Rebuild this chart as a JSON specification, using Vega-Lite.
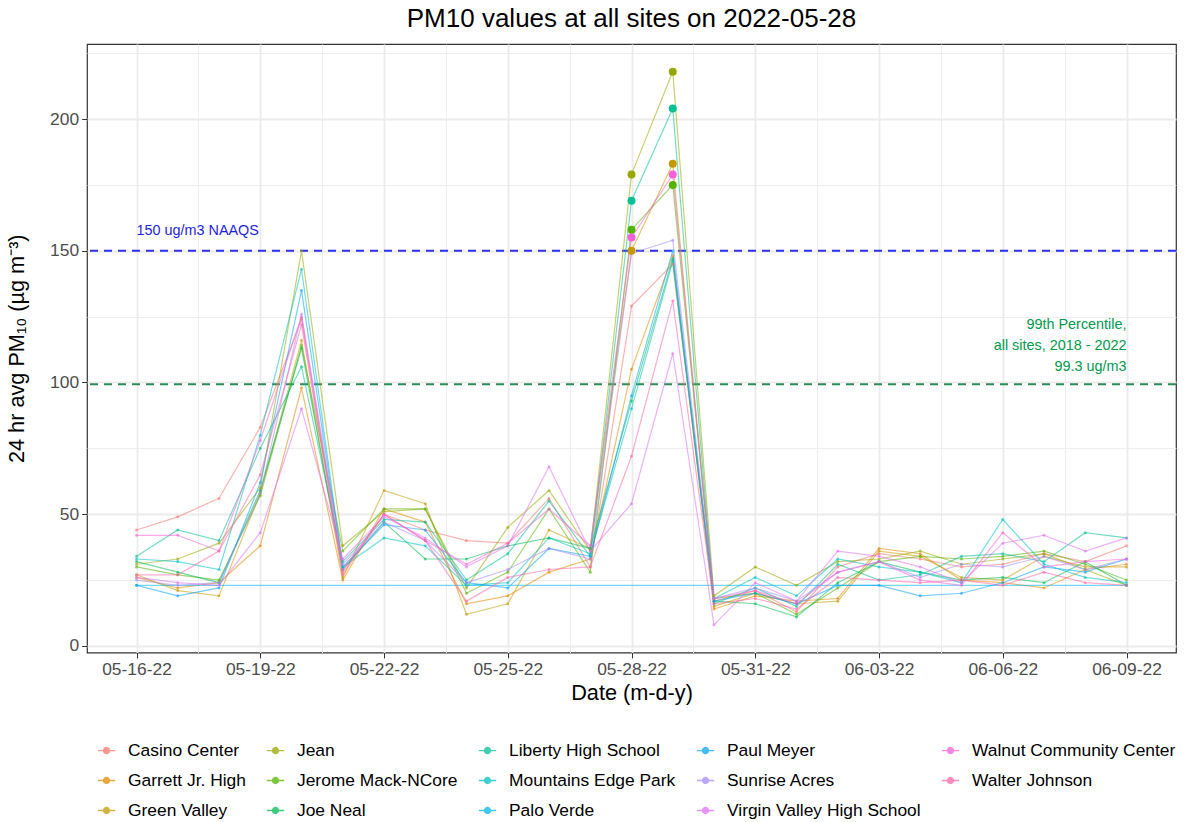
{
  "$schema": "https://vega.github.io/schema/vega-lite/v6.json",
  "width": 1089,
  "height": 608.5,
  "autosize": {"type": "none"},
  "padding": {"left": 87, "top": 44, "right": 9, "bottom": 169.5},
  "title": {"text": "PM10 values at all sites on 2022-05-28", "fontSize": 26, "font": "Liberation Sans", "fontWeight": "normal", "color": "black", "anchor": "middle", "offset": 12},
  "config": {
    "font": "Liberation Sans",
    "view": {"stroke": "#333333", "strokeWidth": 1.2},
    "axis": {"labelFontSize": 17.4, "labelColor": "#4D4D4D", "titleFontSize": 21.7, "titleFontWeight": "normal", "titleColor": "black", "tickColor": "#333333", "domain": false, "gridColor": "#EBEBEB", "labelPadding": 3}
  },
  "datasets": {
    "pm": [
      {"site":"Casino Center","date":"2022/05/16","pm10":44},{"site":"Casino Center","date":"2022/05/17","pm10":49},{"site":"Casino Center","date":"2022/05/18","pm10":56},{"site":"Casino Center","date":"2022/05/19","pm10":83},{"site":"Casino Center","date":"2022/05/20","pm10":124},{"site":"Casino Center","date":"2022/05/21","pm10":28},{"site":"Casino Center","date":"2022/05/22","pm10":50},{"site":"Casino Center","date":"2022/05/23","pm10":44},{"site":"Casino Center","date":"2022/05/24","pm10":40},{"site":"Casino Center","date":"2022/05/25","pm10":39},{"site":"Casino Center","date":"2022/05/26","pm10":56},{"site":"Casino Center","date":"2022/05/27","pm10":30},{"site":"Casino Center","date":"2022/05/28","pm10":129},{"site":"Casino Center","date":"2022/05/29","pm10":145},{"site":"Casino Center","date":"2022/05/30","pm10":17},{"site":"Casino Center","date":"2022/05/31","pm10":21},{"site":"Casino Center","date":"2022/06/01","pm10":13},{"site":"Casino Center","date":"2022/06/02","pm10":30},{"site":"Casino Center","date":"2022/06/03","pm10":35},{"site":"Casino Center","date":"2022/06/04","pm10":33},{"site":"Casino Center","date":"2022/06/05","pm10":30},{"site":"Casino Center","date":"2022/06/06","pm10":31},{"site":"Casino Center","date":"2022/06/07","pm10":35},{"site":"Casino Center","date":"2022/06/08","pm10":32},{"site":"Casino Center","date":"2022/06/09","pm10":38},
      {"site":"Garrett Jr. High","date":"2022/05/16","pm10":26},{"site":"Garrett Jr. High","date":"2022/05/17","pm10":22},{"site":"Garrett Jr. High","date":"2022/05/18","pm10":24},{"site":"Garrett Jr. High","date":"2022/05/19","pm10":38},{"site":"Garrett Jr. High","date":"2022/05/20","pm10":98},{"site":"Garrett Jr. High","date":"2022/05/21","pm10":25},{"site":"Garrett Jr. High","date":"2022/05/22","pm10":52},{"site":"Garrett Jr. High","date":"2022/05/23","pm10":47},{"site":"Garrett Jr. High","date":"2022/05/24","pm10":16},{"site":"Garrett Jr. High","date":"2022/05/25","pm10":19},{"site":"Garrett Jr. High","date":"2022/05/26","pm10":28},{"site":"Garrett Jr. High","date":"2022/05/27","pm10":33},{"site":"Garrett Jr. High","date":"2022/05/28","pm10":105},{"site":"Garrett Jr. High","date":"2022/05/29","pm10":148},{"site":"Garrett Jr. High","date":"2022/05/30","pm10":14},{"site":"Garrett Jr. High","date":"2022/05/31","pm10":19},{"site":"Garrett Jr. High","date":"2022/06/01","pm10":17},{"site":"Garrett Jr. High","date":"2022/06/02","pm10":18},{"site":"Garrett Jr. High","date":"2022/06/03","pm10":37},{"site":"Garrett Jr. High","date":"2022/06/04","pm10":35},{"site":"Garrett Jr. High","date":"2022/06/05","pm10":25},{"site":"Garrett Jr. High","date":"2022/06/06","pm10":24},{"site":"Garrett Jr. High","date":"2022/06/07","pm10":22},{"site":"Garrett Jr. High","date":"2022/06/08","pm10":29},{"site":"Garrett Jr. High","date":"2022/06/09","pm10":31},
      {"site":"Green Valley","date":"2022/05/16","pm10":27},{"site":"Green Valley","date":"2022/05/17","pm10":21},{"site":"Green Valley","date":"2022/05/18","pm10":19},{"site":"Green Valley","date":"2022/05/19","pm10":58},{"site":"Green Valley","date":"2022/05/20","pm10":116},{"site":"Green Valley","date":"2022/05/21","pm10":26},{"site":"Green Valley","date":"2022/05/22","pm10":59},{"site":"Green Valley","date":"2022/05/23","pm10":54},{"site":"Green Valley","date":"2022/05/24","pm10":12},{"site":"Green Valley","date":"2022/05/25","pm10":16},{"site":"Green Valley","date":"2022/05/26","pm10":44},{"site":"Green Valley","date":"2022/05/27","pm10":37},{"site":"Green Valley","date":"2022/05/28","pm10":150,"exceed":true},{"site":"Green Valley","date":"2022/05/29","pm10":183,"exceed":true},{"site":"Green Valley","date":"2022/05/30","pm10":15},{"site":"Green Valley","date":"2022/05/31","pm10":20},{"site":"Green Valley","date":"2022/06/01","pm10":16},{"site":"Green Valley","date":"2022/06/02","pm10":17},{"site":"Green Valley","date":"2022/06/03","pm10":36},{"site":"Green Valley","date":"2022/06/04","pm10":34},{"site":"Green Valley","date":"2022/06/05","pm10":26},{"site":"Green Valley","date":"2022/06/06","pm10":25},{"site":"Green Valley","date":"2022/06/07","pm10":34},{"site":"Green Valley","date":"2022/06/08","pm10":30},{"site":"Green Valley","date":"2022/06/09","pm10":30},
      {"site":"Jean","date":"2022/05/16","pm10":31},{"site":"Jean","date":"2022/05/17","pm10":33},{"site":"Jean","date":"2022/05/18","pm10":39},{"site":"Jean","date":"2022/05/19","pm10":60},{"site":"Jean","date":"2022/05/20","pm10":150},{"site":"Jean","date":"2022/05/21","pm10":38},{"site":"Jean","date":"2022/05/22","pm10":51},{"site":"Jean","date":"2022/05/23","pm10":52},{"site":"Jean","date":"2022/05/24","pm10":22},{"site":"Jean","date":"2022/05/25","pm10":45},{"site":"Jean","date":"2022/05/26","pm10":59},{"site":"Jean","date":"2022/05/27","pm10":36},{"site":"Jean","date":"2022/05/28","pm10":179,"exceed":true},{"site":"Jean","date":"2022/05/29","pm10":218,"exceed":true},{"site":"Jean","date":"2022/05/30","pm10":19},{"site":"Jean","date":"2022/05/31","pm10":30},{"site":"Jean","date":"2022/06/01","pm10":23},{"site":"Jean","date":"2022/06/02","pm10":32},{"site":"Jean","date":"2022/06/03","pm10":33},{"site":"Jean","date":"2022/06/04","pm10":36},{"site":"Jean","date":"2022/06/05","pm10":31},{"site":"Jean","date":"2022/06/06","pm10":33},{"site":"Jean","date":"2022/06/07","pm10":35},{"site":"Jean","date":"2022/06/08","pm10":29},{"site":"Jean","date":"2022/06/09","pm10":23},
      {"site":"Jerome Mack-NCore","date":"2022/05/16","pm10":30},{"site":"Jerome Mack-NCore","date":"2022/05/17","pm10":27},{"site":"Jerome Mack-NCore","date":"2022/05/18","pm10":25},{"site":"Jerome Mack-NCore","date":"2022/05/19","pm10":57},{"site":"Jerome Mack-NCore","date":"2022/05/20","pm10":114},{"site":"Jerome Mack-NCore","date":"2022/05/21","pm10":36},{"site":"Jerome Mack-NCore","date":"2022/05/22","pm10":52},{"site":"Jerome Mack-NCore","date":"2022/05/23","pm10":52},{"site":"Jerome Mack-NCore","date":"2022/05/24","pm10":20},{"site":"Jerome Mack-NCore","date":"2022/05/25","pm10":28},{"site":"Jerome Mack-NCore","date":"2022/05/26","pm10":52},{"site":"Jerome Mack-NCore","date":"2022/05/27","pm10":28},{"site":"Jerome Mack-NCore","date":"2022/05/28","pm10":158,"exceed":true},{"site":"Jerome Mack-NCore","date":"2022/05/29","pm10":175,"exceed":true},{"site":"Jerome Mack-NCore","date":"2022/05/30","pm10":18},{"site":"Jerome Mack-NCore","date":"2022/05/31","pm10":20},{"site":"Jerome Mack-NCore","date":"2022/06/01","pm10":12},{"site":"Jerome Mack-NCore","date":"2022/06/02","pm10":22},{"site":"Jerome Mack-NCore","date":"2022/06/03","pm10":32},{"site":"Jerome Mack-NCore","date":"2022/06/04","pm10":34},{"site":"Jerome Mack-NCore","date":"2022/06/05","pm10":33},{"site":"Jerome Mack-NCore","date":"2022/06/06","pm10":34},{"site":"Jerome Mack-NCore","date":"2022/06/07","pm10":36},{"site":"Jerome Mack-NCore","date":"2022/06/08","pm10":31},{"site":"Jerome Mack-NCore","date":"2022/06/09","pm10":25},
      {"site":"Joe Neal","date":"2022/05/16","pm10":32},{"site":"Joe Neal","date":"2022/05/17","pm10":28},{"site":"Joe Neal","date":"2022/05/18","pm10":24},{"site":"Joe Neal","date":"2022/05/19","pm10":59},{"site":"Joe Neal","date":"2022/05/20","pm10":113},{"site":"Joe Neal","date":"2022/05/21","pm10":29},{"site":"Joe Neal","date":"2022/05/22","pm10":47},{"site":"Joe Neal","date":"2022/05/23","pm10":33},{"site":"Joe Neal","date":"2022/05/24","pm10":33},{"site":"Joe Neal","date":"2022/05/25","pm10":38},{"site":"Joe Neal","date":"2022/05/26","pm10":41},{"site":"Joe Neal","date":"2022/05/27","pm10":37},{"site":"Joe Neal","date":"2022/05/28","pm10":93},{"site":"Joe Neal","date":"2022/05/29","pm10":147},{"site":"Joe Neal","date":"2022/05/30","pm10":17},{"site":"Joe Neal","date":"2022/05/31","pm10":16},{"site":"Joe Neal","date":"2022/06/01","pm10":11},{"site":"Joe Neal","date":"2022/06/02","pm10":24},{"site":"Joe Neal","date":"2022/06/03","pm10":32},{"site":"Joe Neal","date":"2022/06/04","pm10":28},{"site":"Joe Neal","date":"2022/06/05","pm10":25},{"site":"Joe Neal","date":"2022/06/06","pm10":26},{"site":"Joe Neal","date":"2022/06/07","pm10":24},{"site":"Joe Neal","date":"2022/06/08","pm10":32},{"site":"Joe Neal","date":"2022/06/09","pm10":23},
      {"site":"Liberty High School","date":"2022/05/16","pm10":34},{"site":"Liberty High School","date":"2022/05/17","pm10":44},{"site":"Liberty High School","date":"2022/05/18","pm10":40},{"site":"Liberty High School","date":"2022/05/19","pm10":75},{"site":"Liberty High School","date":"2022/05/20","pm10":106},{"site":"Liberty High School","date":"2022/05/21","pm10":32},{"site":"Liberty High School","date":"2022/05/22","pm10":48},{"site":"Liberty High School","date":"2022/05/23","pm10":47},{"site":"Liberty High School","date":"2022/05/24","pm10":25},{"site":"Liberty High School","date":"2022/05/25","pm10":35},{"site":"Liberty High School","date":"2022/05/26","pm10":55},{"site":"Liberty High School","date":"2022/05/27","pm10":34},{"site":"Liberty High School","date":"2022/05/28","pm10":169,"exceed":true},{"site":"Liberty High School","date":"2022/05/29","pm10":204,"exceed":true},{"site":"Liberty High School","date":"2022/05/30","pm10":16},{"site":"Liberty High School","date":"2022/05/31","pm10":22},{"site":"Liberty High School","date":"2022/06/01","pm10":15},{"site":"Liberty High School","date":"2022/06/02","pm10":31},{"site":"Liberty High School","date":"2022/06/03","pm10":25},{"site":"Liberty High School","date":"2022/06/04","pm10":27},{"site":"Liberty High School","date":"2022/06/05","pm10":34},{"site":"Liberty High School","date":"2022/06/06","pm10":35},{"site":"Liberty High School","date":"2022/06/07","pm10":32},{"site":"Liberty High School","date":"2022/06/08","pm10":43},{"site":"Liberty High School","date":"2022/06/09","pm10":41},
      {"site":"Mountains Edge Park","date":"2022/05/16","pm10":33},{"site":"Mountains Edge Park","date":"2022/05/17","pm10":32},{"site":"Mountains Edge Park","date":"2022/05/18","pm10":29},{"site":"Mountains Edge Park","date":"2022/05/19","pm10":80},{"site":"Mountains Edge Park","date":"2022/05/20","pm10":143},{"site":"Mountains Edge Park","date":"2022/05/21","pm10":30},{"site":"Mountains Edge Park","date":"2022/05/22","pm10":41},{"site":"Mountains Edge Park","date":"2022/05/23","pm10":38},{"site":"Mountains Edge Park","date":"2022/05/24","pm10":23},{"site":"Mountains Edge Park","date":"2022/05/25","pm10":24},{"site":"Mountains Edge Park","date":"2022/05/26","pm10":41},{"site":"Mountains Edge Park","date":"2022/05/27","pm10":35},{"site":"Mountains Edge Park","date":"2022/05/28","pm10":90},{"site":"Mountains Edge Park","date":"2022/05/29","pm10":146},{"site":"Mountains Edge Park","date":"2022/05/30","pm10":18},{"site":"Mountains Edge Park","date":"2022/05/31","pm10":26},{"site":"Mountains Edge Park","date":"2022/06/01","pm10":19},{"site":"Mountains Edge Park","date":"2022/06/02","pm10":33},{"site":"Mountains Edge Park","date":"2022/06/03","pm10":30},{"site":"Mountains Edge Park","date":"2022/06/04","pm10":28},{"site":"Mountains Edge Park","date":"2022/06/05","pm10":24},{"site":"Mountains Edge Park","date":"2022/06/06","pm10":48},{"site":"Mountains Edge Park","date":"2022/06/07","pm10":31},{"site":"Mountains Edge Park","date":"2022/06/08","pm10":26},{"site":"Mountains Edge Park","date":"2022/06/09","pm10":24},
      {"site":"Palo Verde","date":"2022/05/16","pm10":23},{"site":"Palo Verde","date":"2022/06/09","pm10":23},
      {"site":"Paul Meyer","date":"2022/05/16","pm10":23},{"site":"Paul Meyer","date":"2022/05/17","pm10":19},{"site":"Paul Meyer","date":"2022/05/18","pm10":22},{"site":"Paul Meyer","date":"2022/05/19","pm10":62},{"site":"Paul Meyer","date":"2022/05/20","pm10":135},{"site":"Paul Meyer","date":"2022/05/21","pm10":30},{"site":"Paul Meyer","date":"2022/05/22","pm10":46},{"site":"Paul Meyer","date":"2022/05/23","pm10":44},{"site":"Paul Meyer","date":"2022/05/24","pm10":24},{"site":"Paul Meyer","date":"2022/05/25","pm10":22},{"site":"Paul Meyer","date":"2022/05/26","pm10":37},{"site":"Paul Meyer","date":"2022/05/27","pm10":34},{"site":"Paul Meyer","date":"2022/05/28","pm10":95},{"site":"Paul Meyer","date":"2022/05/29","pm10":150},{"site":"Paul Meyer","date":"2022/05/30","pm10":17},{"site":"Paul Meyer","date":"2022/05/31","pm10":20},{"site":"Paul Meyer","date":"2022/06/01","pm10":16},{"site":"Paul Meyer","date":"2022/06/02","pm10":23},{"site":"Paul Meyer","date":"2022/06/03","pm10":23},{"site":"Paul Meyer","date":"2022/06/04","pm10":19},{"site":"Paul Meyer","date":"2022/06/05","pm10":20},{"site":"Paul Meyer","date":"2022/06/06","pm10":24},{"site":"Paul Meyer","date":"2022/06/07","pm10":30},{"site":"Paul Meyer","date":"2022/06/08","pm10":28},{"site":"Paul Meyer","date":"2022/06/09","pm10":33},
      {"site":"Sunrise Acres","date":"2022/05/16","pm10":25},{"site":"Sunrise Acres","date":"2022/05/17","pm10":23},{"site":"Sunrise Acres","date":"2022/05/18","pm10":24},{"site":"Sunrise Acres","date":"2022/05/19","pm10":58},{"site":"Sunrise Acres","date":"2022/05/20","pm10":126},{"site":"Sunrise Acres","date":"2022/05/21","pm10":31},{"site":"Sunrise Acres","date":"2022/05/22","pm10":47},{"site":"Sunrise Acres","date":"2022/05/23","pm10":40},{"site":"Sunrise Acres","date":"2022/05/24","pm10":24},{"site":"Sunrise Acres","date":"2022/05/25","pm10":29},{"site":"Sunrise Acres","date":"2022/05/26","pm10":37},{"site":"Sunrise Acres","date":"2022/05/27","pm10":33},{"site":"Sunrise Acres","date":"2022/05/28","pm10":149},{"site":"Sunrise Acres","date":"2022/05/29","pm10":154},{"site":"Sunrise Acres","date":"2022/05/30","pm10":18},{"site":"Sunrise Acres","date":"2022/05/31","pm10":22},{"site":"Sunrise Acres","date":"2022/06/01","pm10":17},{"site":"Sunrise Acres","date":"2022/06/02","pm10":28},{"site":"Sunrise Acres","date":"2022/06/03","pm10":32},{"site":"Sunrise Acres","date":"2022/06/04","pm10":26},{"site":"Sunrise Acres","date":"2022/06/05","pm10":31},{"site":"Sunrise Acres","date":"2022/06/06","pm10":30},{"site":"Sunrise Acres","date":"2022/06/07","pm10":34},{"site":"Sunrise Acres","date":"2022/06/08","pm10":29},{"site":"Sunrise Acres","date":"2022/06/09","pm10":33},
      {"site":"Virgin Valley High School","date":"2022/05/16","pm10":26},{"site":"Virgin Valley High School","date":"2022/05/17","pm10":24},{"site":"Virgin Valley High School","date":"2022/05/18","pm10":23},{"site":"Virgin Valley High School","date":"2022/05/19","pm10":43},{"site":"Virgin Valley High School","date":"2022/05/20","pm10":90},{"site":"Virgin Valley High School","date":"2022/05/21","pm10":33},{"site":"Virgin Valley High School","date":"2022/05/22","pm10":49},{"site":"Virgin Valley High School","date":"2022/05/23","pm10":41},{"site":"Virgin Valley High School","date":"2022/05/24","pm10":30},{"site":"Virgin Valley High School","date":"2022/05/25","pm10":38},{"site":"Virgin Valley High School","date":"2022/05/26","pm10":68},{"site":"Virgin Valley High School","date":"2022/05/27","pm10":36},{"site":"Virgin Valley High School","date":"2022/05/28","pm10":54},{"site":"Virgin Valley High School","date":"2022/05/29","pm10":111},{"site":"Virgin Valley High School","date":"2022/05/30","pm10":8},{"site":"Virgin Valley High School","date":"2022/05/31","pm10":24},{"site":"Virgin Valley High School","date":"2022/06/01","pm10":17},{"site":"Virgin Valley High School","date":"2022/06/02","pm10":36},{"site":"Virgin Valley High School","date":"2022/06/03","pm10":34},{"site":"Virgin Valley High School","date":"2022/06/04","pm10":30},{"site":"Virgin Valley High School","date":"2022/06/05","pm10":24},{"site":"Virgin Valley High School","date":"2022/06/06","pm10":39},{"site":"Virgin Valley High School","date":"2022/06/07","pm10":42},{"site":"Virgin Valley High School","date":"2022/06/08","pm10":36},{"site":"Virgin Valley High School","date":"2022/06/09","pm10":41},
      {"site":"Walnut Community Center","date":"2022/05/16","pm10":42},{"site":"Walnut Community Center","date":"2022/05/17","pm10":42},{"site":"Walnut Community Center","date":"2022/05/18","pm10":36},{"site":"Walnut Community Center","date":"2022/05/19","pm10":78},{"site":"Walnut Community Center","date":"2022/05/20","pm10":125},{"site":"Walnut Community Center","date":"2022/05/21","pm10":29},{"site":"Walnut Community Center","date":"2022/05/22","pm10":50},{"site":"Walnut Community Center","date":"2022/05/23","pm10":40},{"site":"Walnut Community Center","date":"2022/05/24","pm10":31},{"site":"Walnut Community Center","date":"2022/05/25","pm10":39},{"site":"Walnut Community Center","date":"2022/05/26","pm10":52},{"site":"Walnut Community Center","date":"2022/05/27","pm10":38},{"site":"Walnut Community Center","date":"2022/05/28","pm10":155,"exceed":true},{"site":"Walnut Community Center","date":"2022/05/29","pm10":179,"exceed":true},{"site":"Walnut Community Center","date":"2022/05/30","pm10":18},{"site":"Walnut Community Center","date":"2022/05/31","pm10":21},{"site":"Walnut Community Center","date":"2022/06/01","pm10":16},{"site":"Walnut Community Center","date":"2022/06/02","pm10":28},{"site":"Walnut Community Center","date":"2022/06/03","pm10":32},{"site":"Walnut Community Center","date":"2022/06/04","pm10":25},{"site":"Walnut Community Center","date":"2022/06/05","pm10":23},{"site":"Walnut Community Center","date":"2022/06/06","pm10":43},{"site":"Walnut Community Center","date":"2022/06/07","pm10":30},{"site":"Walnut Community Center","date":"2022/06/08","pm10":32},{"site":"Walnut Community Center","date":"2022/06/09","pm10":33},
      {"site":"Walter Johnson","date":"2022/05/16","pm10":27},{"site":"Walter Johnson","date":"2022/05/17","pm10":27},{"site":"Walter Johnson","date":"2022/05/18","pm10":36},{"site":"Walter Johnson","date":"2022/05/19","pm10":65},{"site":"Walter Johnson","date":"2022/05/20","pm10":122},{"site":"Walter Johnson","date":"2022/05/21","pm10":27},{"site":"Walter Johnson","date":"2022/05/22","pm10":50},{"site":"Walter Johnson","date":"2022/05/23","pm10":40},{"site":"Walter Johnson","date":"2022/05/24","pm10":17},{"site":"Walter Johnson","date":"2022/05/25","pm10":26},{"site":"Walter Johnson","date":"2022/05/26","pm10":29},{"site":"Walter Johnson","date":"2022/05/27","pm10":30},{"site":"Walter Johnson","date":"2022/05/28","pm10":72},{"site":"Walter Johnson","date":"2022/05/29","pm10":131},{"site":"Walter Johnson","date":"2022/05/30","pm10":16},{"site":"Walter Johnson","date":"2022/05/31","pm10":18},{"site":"Walter Johnson","date":"2022/06/01","pm10":14},{"site":"Walter Johnson","date":"2022/06/02","pm10":26},{"site":"Walter Johnson","date":"2022/06/03","pm10":25},{"site":"Walter Johnson","date":"2022/06/04","pm10":24},{"site":"Walter Johnson","date":"2022/06/05","pm10":25},{"site":"Walter Johnson","date":"2022/06/06","pm10":23},{"site":"Walter Johnson","date":"2022/06/07","pm10":28},{"site":"Walter Johnson","date":"2022/06/08","pm10":24},{"site":"Walter Johnson","date":"2022/06/09","pm10":23}
    ]
  },
  "encoding": {
    "y": {
      "field": "pm10", "type": "quantitative",
      "scale": {"domain": [-2.5, 228.5], "nice": false, "zero": false},
      "axis": {
        "title": "24 hr avg PM₁₀ (µg m⁻³)",
        "values": [0, 25, 50, 75, 100, 125, 150, 175, 200, 225],
        "labelExpr": "datum.value % 50 === 0 ? datum.label : ''",
        "tickOpacity": {"condition": {"test": "datum.value % 50 === 0", "value": 1}, "value": 0},
        "gridWidth": {"condition": {"test": "datum.value % 50 === 0", "value": 1.8}, "value": 0.9},
        "tickSize": 5.4,
        "titlePadding": 21
      }
    }
  },
  "layer": [
    {
      "data": {"values": [{"pm10": 150}]},
      "mark": {"type": "rule", "color": "#2E2EF0", "strokeDash": [8, 6], "strokeWidth": 2},
      "encoding": {}
    },
    {
      "data": {"values": [{"pm10": 99.3}]},
      "mark": {"type": "rule", "color": "#2E8B57", "strokeDash": [8, 6], "strokeWidth": 2},
      "encoding": {}
    },
    {
      "data": {"name": "pm"},
      "mark": {"type": "line", "strokeWidth": 1.2, "opacity": 0.55},
      "encoding": {
        "x": {
          "field": "date", "type": "temporal",
          "scale": {"domain": [{"year": 2022, "month": 5, "date": 14, "hours": 19, "minutes": 12}, {"year": 2022, "month": 6, "date": 10, "hours": 4, "minutes": 48}]},
          "axis": {
            "title": "Date (m-d-y)",
            "format": "%m-%d-%y",
            "values": [
              {"year": 2022, "month": 5, "date": 16}, {"year": 2022, "month": 5, "date": 17, "hours": 12},
              {"year": 2022, "month": 5, "date": 19}, {"year": 2022, "month": 5, "date": 20, "hours": 12},
              {"year": 2022, "month": 5, "date": 22}, {"year": 2022, "month": 5, "date": 23, "hours": 12},
              {"year": 2022, "month": 5, "date": 25}, {"year": 2022, "month": 5, "date": 26, "hours": 12},
              {"year": 2022, "month": 5, "date": 28}, {"year": 2022, "month": 5, "date": 29, "hours": 12},
              {"year": 2022, "month": 5, "date": 31}, {"year": 2022, "month": 6, "date": 1, "hours": 12},
              {"year": 2022, "month": 6, "date": 3}, {"year": 2022, "month": 6, "date": 4, "hours": 12},
              {"year": 2022, "month": 6, "date": 6}, {"year": 2022, "month": 6, "date": 7, "hours": 12},
              {"year": 2022, "month": 6, "date": 9}
            ],
            "labelExpr": "hours(datum.value) === 0 ? timeFormat(datum.value, '%m-%d-%y') : ''",
            "tickOpacity": {"condition": {"test": "hours(datum.value) === 0", "value": 1}, "value": 0},
            "gridWidth": {"condition": {"test": "hours(datum.value) === 0", "value": 1.8}, "value": 0.9},
            "tickSize": 5.4,
            "titlePadding": 4
          }
        },
        "color": {
          "field": "site", "type": "nominal",
          "scale": {
            "domain": ["Casino Center", "Garrett Jr. High", "Green Valley", "Jean", "Jerome Mack-NCore", "Joe Neal", "Liberty High School", "Mountains Edge Park", "Palo Verde", "Paul Meyer", "Sunrise Acres", "Virgin Valley High School", "Walnut Community Center", "Walter Johnson"],
            "range": ["#F8766D", "#E38900", "#C49A00", "#99A800", "#53B400", "#00BC56", "#00C094", "#00BFC4", "#00B6EB", "#06A4FF", "#A58AFF", "#DF70F8", "#FB61D7", "#FF66A8"]
          },
          "legend": {
            "orient": "none", "legendX": 10, "legendY": 697, "columns": 5, "title": null,
            "symbolType": "M-1,0L1,0M0.35,0A0.35,0.35,0,1,1,-0.35,0A0.35,0.35,0,1,1,0.35,0",
            "symbolSize": 300, "symbolStrokeWidth": 1.3, "symbolOpacity": 0.75,
            "labelFontSize": 17.4, "labelColor": "black", "labelFont": "Liberation Sans", "labelLimit": 0,
            "columnPadding": 18, "rowPadding": 12, "labelOffset": 12,
            "encode": {"symbols": {"update": {"fill": {"scale": "color", "field": "value"}, "stroke": {"scale": "color", "field": "value"}}}}
          }
        }
      }
    },
    {
      "data": {"name": "pm"},
      "mark": {"type": "point", "filled": true, "size": 9, "opacity": 0.6},
      "encoding": {
        "x": {"field": "date", "type": "temporal"},
        "color": {"field": "site", "type": "nominal"}
      }
    },
    {
      "data": {"name": "pm"},
      "transform": [{"filter": "datum.exceed === true"}],
      "mark": {"type": "point", "filled": true, "size": 64, "opacity": 1},
      "encoding": {
        "x": {"field": "date", "type": "temporal"},
        "color": {"field": "site", "type": "nominal"}
      }
    },
    {
      "data": {"values": [{"date": "2022/05/16", "pm10": 157.5}]},
      "mark": {"type": "text", "text": "150 ug/m3 NAAQS", "align": "left", "baseline": "middle", "fontSize": 14.4, "color": "#1E1EE6"},
      "encoding": {"x": {"field": "date", "type": "temporal"}}
    },
    {
      "data": {"values": [{"date": "2022/06/09", "pm10": 121.9}]},
      "mark": {"type": "text", "text": ["99th Percentile,", "all sites, 2018 - 2022", "99.3 ug/m3"], "align": "right", "baseline": "middle", "fontSize": 14.4, "lineHeight": 21, "color": "#009A4E"},
      "encoding": {"x": {"field": "date", "type": "temporal"}}
    }
  ]
}
